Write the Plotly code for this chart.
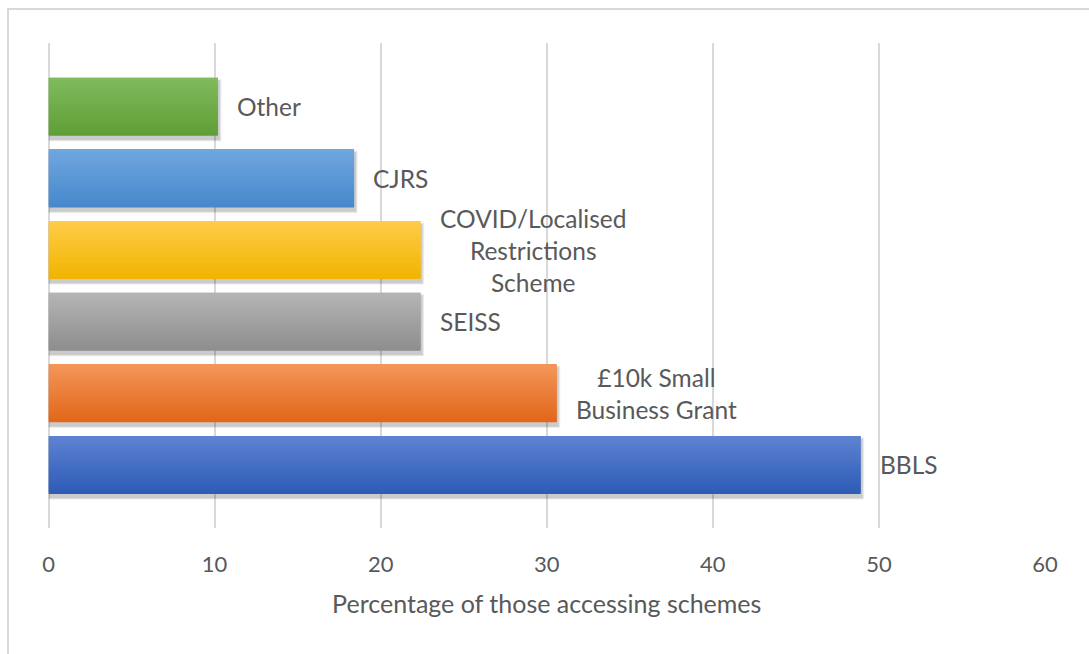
import plotly.graph_objects as go

# Share of businesses accessing each support scheme (%)
schemes = ["BBLS", "£10k Small<br>Business Grant", "SEISS",
           "COVID/Localised<br>Restrictions<br>Scheme", "CJRS", "Other"]
shares = [48.9, 30.6, 22.4, 22.4, 18.4, 10.2]

# Gradient end colours per bar (top, bottom)
top_colors = ["#5e83d2", "#f49659", "#b5b5b5", "#ffcc48", "#70a7de", "#80bb5d"]
bottom_colors = ["#2d5bb6", "#e2661a", "#8d8d8d", "#f0b400", "#4588cc", "#5f9e36"]

x_ticks = [0, 10, 20, 30, 40, 50, 60]
x_title = "Percentage of those accessing schemes"

FONT = "Lato, Open Sans, sans-serif"
TEXT = "#595959"
GRID = "#d9d9d9"

BAR_W = 0.81
N_SLICES = 40


def hex_to_rgb(h):
    h = h.lstrip("#")
    return tuple(int(h[i:i + 2], 16) for i in (0, 2, 4))


def mix(c1, c2, t):
    a, b = hex_to_rgb(c1), hex_to_rgb(c2)
    return "rgb({},{},{})".format(*[round(a[i] + (b[i] - a[i]) * t) for i in range(3)])


fig = go.Figure()

# soft drop shadow under each bar
for k, alpha in enumerate([0.05, 0.07, 0.09]):
    grow = 0.06 - k * 0.02
    fig.add_trace(go.Bar(
        y=schemes, x=[v + 0.22 - k * 0.05 for v in shares], orientation="h",
        base=0, width=BAR_W + grow, offset=-BAR_W / 2 - 0.05 - grow / 2,
        marker=dict(color=f"rgba(0,0,0,{alpha})", line=dict(width=0)),
        hoverinfo="skip", showlegend=False,
    ))

# gradient bars built from horizontal slices, light at top, darker at bottom
step = BAR_W / N_SLICES
for i in range(N_SLICES):
    t = 1 - (i + 0.5) / N_SLICES  # i=0 is the bottom slice
    colors = [mix(tc, bc, t) for tc, bc in zip(top_colors, bottom_colors)]
    span = step * 2 if i < N_SLICES - 1 else step
    fig.add_trace(go.Bar(
        y=schemes, x=shares, orientation="h",
        width=span, offset=-BAR_W / 2 + i * step,
        marker=dict(color=colors, line=dict(width=0)),
        hoverinfo="skip", showlegend=False,
    ))

# category labels beside each bar end
for name, val in zip(schemes, shares):
    fig.add_annotation(
        x=val, y=name, text=name, showarrow=False,
        xanchor="left", yanchor="middle", xshift=17, align="center",
        font=dict(family=FONT, size=24.5, color=TEXT),
    )

# chart frame
fig.add_shape(type="rect", xref="paper", yref="paper",
              x0=8 / 1089, x1=1.02, y0=-0.02, y1=1 - 9 / 654,
              line=dict(color="#d9d9d9", width=2), layer="below")

fig.update_layout(
    width=1089, height=654,
    margin=dict(l=0, r=0, t=0, b=0, autoexpand=False),
    paper_bgcolor="white", plot_bgcolor="white",
    barmode="overlay",
    showlegend=False,
    font=dict(family=FONT, color=TEXT),
    xaxis=dict(
        domain=[48.5 / 1089, 1045 / 1089],
        range=[0, 60], tickvals=x_ticks,
        showgrid=True, gridcolor=GRID, gridwidth=1.5,
        zeroline=True, zerolinecolor=GRID, zerolinewidth=1.5,
        showline=False, ticks="", ticklabelstandoff=21,
        tickfont=dict(family=FONT, size=22, color=TEXT),
        title=dict(text=x_title, standoff=19,
                   font=dict(family=FONT, size=25, color=TEXT)),
        automargin=False, fixedrange=True,
    ),
    yaxis=dict(
        domain=[126 / 654, 611 / 654],
        categoryorder="array", categoryarray=schemes,
        range=[-0.88, 5.89],
        showticklabels=False, showgrid=False, zeroline=False,
        showline=False, ticks="", automargin=False, fixedrange=True,
    ),
)

fig.write_html("out.html")
